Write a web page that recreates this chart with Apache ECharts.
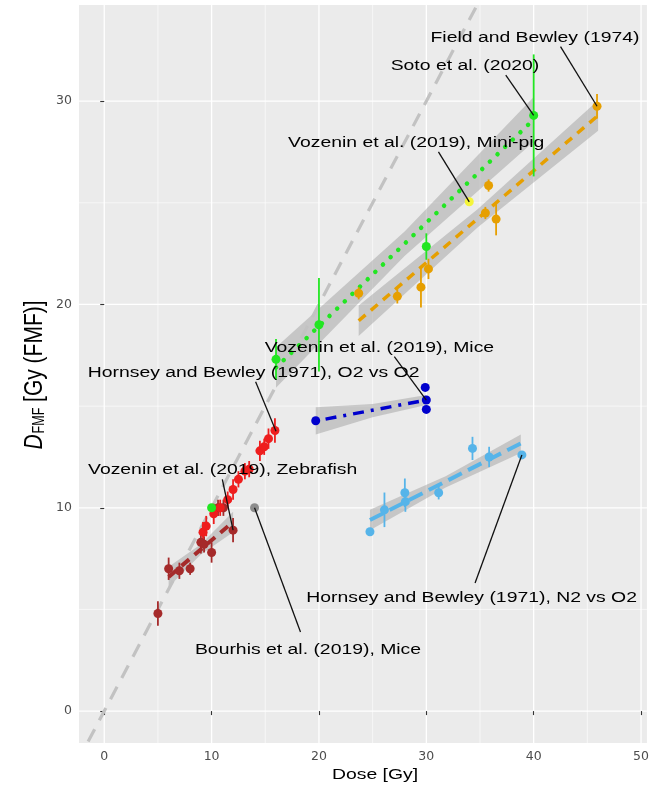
<!DOCTYPE html>
<html><head><meta charset="utf-8">
<script src="https://cdn.jsdelivr.net/npm/echarts@6/dist/echarts.min.js"></script>
<style>html,body{margin:0;padding:0;background:#fff}#c{width:652px;height:791px}</style>
</head><body><div id="c"></div>
<script>
// ---------- axis ticks ----------
const xTicks = [0, 10, 20, 30, 40, 50];
const yTicks = [0, 10, 20, 30];
const xMinorTicks = [5, 15, 25, 35, 45];
const yMinorTicks = [5, 15, 25];

// ---------- identity line ----------
const identityX = [-1.5, 36];
const identityY = [-1.5, 36];

// ---------- Vozenin et al. (2019), Zebrafish ----------
const zebraX   = [5, 6, 7, 8, 9, 9.3, 10, 10.6, 11.1, 12];
const zebraY   = [4.8, 7.0, 6.9, 7.0, 8.3, 8.2, 7.8, 10.0, 10.0, 8.9];
const zebraErr = [0.6, 0.55, 0.4, 0.3, 0.55, 0.4, 0.5, 0.4, 0.4, 0.6];
const zebraFitX = [6, 12];
const zebraFitY = [6.6, 9.3];
const zebraBandX  = [6, 9, 12];
const zebraBandLo = [6.1, 7.7, 8.8];
const zebraBandHi = [7.1, 8.2, 9.8];

// ---------- Hornsey and Bewley (1971), O2 vs O2 ----------
const o2X   = [9.2, 9.5, 10.2, 10.8, 11.5, 12.0, 12.5, 13.1, 13.5, 14.5, 14.9, 15.3, 15.9];
const o2Y   = [8.8, 9.1, 9.7, 10.0, 10.4, 10.9, 11.4, 11.8, 11.9, 12.8, 13.0, 13.4, 13.8];
const o2Err = [0.5, 0.5, 0.5, 0.4, 0.4, 0.5, 0.4, 0.4, 0.4, 0.5, 0.4, 0.5, 0.6];

// ---------- Bourhis et al. (2019), Mice ----------
const bourhisX = [14];
const bourhisY = [10];

// ---------- Soto et al. (2020) ----------
const sotoX   = [10, 16, 20, 30, 40];
const sotoY   = [10.0, 17.3, 19.0, 22.85, 29.3];
const sotoErr = [0, 1.0, 2.3, 0.65, 3.0];
const sotoFitX = [16, 40];
const sotoFitY = [16.9, 29.1];
const sotoBandX  = [16, 28, 40];
const sotoBandLo = [15.9, 22.4, 28.0];
const sotoBandHi = [17.9, 23.6, 30.2];

// ---------- Vozenin et al. (2019), Mini-pig ----------
const pigX = [34];
const pigY = [25.05];

// ---------- Field and Bewley (1974) ----------
const fieldX   = [23.7, 27.3, 29.5, 30.2, 35.5, 35.8, 36.5, 45.9];
const fieldY   = [20.55, 20.4, 20.85, 21.75, 24.5, 25.85, 24.2, 29.75];
const fieldErr = [0.3, 0.35, 1.0, 0.5, 0.3, 0.3, 0.8, 0.6];
const fieldFitX = [23.7, 46];
const fieldFitY = [19.2, 29.3];
const fieldBandX  = [23.7, 34.8, 46];
const fieldBandLo = [18.45, 23.8, 28.55];
const fieldBandHi = [19.95, 24.7, 30.05];

// ---------- Vozenin et al. (2019), Mice ----------
const miceX = [19.7, 29.9, 30, 30];
const miceY = [14.28, 15.92, 15.3, 14.84];
const miceFitX = [19.7, 30];
const miceFitY = [14.27, 15.3];
const miceBandX  = [19.7, 25, 30];
const miceBandLo = [13.6, 14.45, 15.05];
const miceBandHi = [14.95, 15.1, 15.55];

// ---------- Hornsey and Bewley (1971), N2 vs O2 ----------
const n2X   = [24.75, 26.1, 28.0, 28.05, 31.15, 34.3, 35.85, 38.9];
const n2Y   = [8.82, 9.9, 10.74, 10.3, 10.74, 12.92, 12.5, 12.6];
const n2Err = [0, 0.85, 0.7, 0.5, 0.33, 0.57, 0.5, 0];
const n2FitX = [24.75, 38.8];
const n2FitY = [9.4, 13.17];
const n2BandX  = [24.75, 31.8, 38.8];
const n2BandLo = [8.9, 11.0, 12.7];
const n2BandHi = [9.9, 11.55, 13.6];

// ---------- annotations ----------
const labelText = [
  'Field and Bewley (1974)',
  'Soto et al. (2020)',
  'Vozenin et al. (2019), Mini-pig',
  'Vozenin et al. (2019), Mice',
  'Hornsey and Bewley (1971), O2 vs O2',
  'Vozenin et al. (2019), Zebrafish',
  'Bourhis et al. (2019), Mice',
  'Hornsey and Bewley (1971), N2 vs O2'
];
const labelX = [40.12, 33.6, 29.06, 25.63, 13.91, 11.03, 18.98, 34.22];
const labelY = [33.1, 31.73, 27.96, 17.88, 16.63, 11.85, 3.0, 5.56];
const leaderX1 = [42.5, 37.4, 31.13, 27.02, 14.1, 11.0, 14.0, 38.9];
const leaderY1 = [32.68, 31.28, 27.51, 17.43, 16.2, 11.4, 10.0, 12.6];
const leaderX2 = [45.9, 40.0, 34.0, 30.0, 16.0, 12.0, 18.28, 34.54];
const leaderY2 = [29.75, 29.3, 25.05, 15.3, 13.77, 8.9, 3.89, 6.3];

// ================= build =================
const FONT = '"Liberation Sans", Arial, sans-serif';
const STRETCH = 1.25;
const zip2 = (a, b) => a.map((v, i) => [v, b[i]]);

function gridSeries() {
  const data = [];
  xTicks.forEach(v => data.push([0, v, 1]));
  xMinorTicks.forEach(v => data.push([0, v, 0]));
  yTicks.forEach(v => data.push([1, v, 1]));
  yMinorTicks.forEach(v => data.push([1, v, 0]));
  return {
    type: 'custom', data, z: 0, silent: true, encode: { x: 1, y: 1 },
    renderItem: (params, api) => {
      const cs = params.coordSys;
      const axis = api.value(0), v = api.value(1), major = api.value(2);
      const w = major ? 1.3 : 0.6;
      if (axis === 0) {
        const px = api.coord([v, 0])[0];
        return { type: 'line', shape: { x1: px, y1: cs.y, x2: px, y2: cs.y + cs.height }, style: { stroke: '#fff', lineWidth: w } };
      }
      const py = api.coord([0, v])[1];
      return { type: 'line', shape: { x1: cs.x, y1: py, x2: cs.x + cs.width, y2: py }, style: { stroke: '#fff', lineWidth: w } };
    }
  };
}

function ribbon(xs, lo, hi) {
  return {
    type: 'custom', data: xs.map((x, i) => [x, lo[i], hi[i]]), z: 2, silent: true,
    encode: { x: 0, y: [1, 2] },
    renderItem: (params, api) => {
      if (params.dataIndex !== 0) return null;
      const pts = [];
      for (let i = 0; i < xs.length; i++) pts.push(api.coord([xs[i], hi[i]]));
      for (let i = xs.length - 1; i >= 0; i--) pts.push(api.coord([xs[i], lo[i]]));
      return { type: 'polygon', shape: { points: pts }, style: { fill: 'rgba(153,153,153,0.45)' } };
    }
  };
}

function fitLine(xs, ys, color, width, dash, cap) {
  return {
    type: 'line', data: zip2(xs, ys), showSymbol: false, symbol: 'none', z: 3, silent: true,
    lineStyle: { color, width, type: dash, cap: cap || 'butt' }
  };
}

function errBars(xs, ys, errs, color) {
  return {
    type: 'custom', z: 4, silent: true,
    data: xs.map((x, i) => [x, ys[i] - errs[i], ys[i] + errs[i]]),
    encode: { x: 0, y: [1, 2] },
    renderItem: (params, api) => {
      const p1 = api.coord([api.value(0), api.value(1)]);
      const p2 = api.coord([api.value(0), api.value(2)]);
      return { type: 'line', shape: { x1: p1[0], y1: p1[1], x2: p2[0], y2: p2[1] }, style: { stroke: color, lineWidth: 1.8 } };
    }
  };
}

function pts(xs, ys, color, size) {
  return { type: 'scatter', data: zip2(xs, ys), symbolSize: size || 9, z: 5, silent: true, itemStyle: { color, opacity: 1 } };
}

const labelSeries = {
  type: 'custom', z: 7, silent: true,
  data: labelX.map((x, i) => [x, labelY[i]]),
  encode: { x: 0, y: 1 },
  renderItem: (params, api) => {
    const p = api.coord([api.value(0), api.value(1)]);
    return {
      type: 'text', x: p[0], y: p[1], scaleX: STRETCH,
      style: { text: labelText[params.dataIndex], font: '15.5px ' + FONT, fill: '#000', align: 'center', verticalAlign: 'middle' }
    };
  }
};

const leaderSeries = {
  type: 'custom', z: 6, silent: true,
  data: leaderX1.map((x, i) => [x, leaderY1[i], leaderX2[i], leaderY2[i]]),
  encode: { x: [0, 2], y: [1, 3] },
  renderItem: (params, api) => {
    const a = api.coord([api.value(0), api.value(1)]);
    const b = api.coord([api.value(2), api.value(3)]);
    return { type: 'line', shape: { x1: a[0], y1: a[1], x2: b[0], y2: b[1] }, style: { stroke: '#111', lineWidth: 1.3 } };
  }
};

const COL = {
  zebra: '#A52A2A', o2: '#EE1D1D', grey: '#8C8C8C', soto: '#22E622', pig: '#F5F53A',
  field: '#E69F00', mice: '#0000CD', n2: '#56B4E9', identity: '#C2C2C2'
};

const series = [
  gridSeries(),
  ribbon(zebraBandX, zebraBandLo, zebraBandHi),
  ribbon(sotoBandX, sotoBandLo, sotoBandHi),
  ribbon(fieldBandX, fieldBandLo, fieldBandHi),
  ribbon(miceBandX, miceBandLo, miceBandHi),
  ribbon(n2BandX, n2BandLo, n2BandHi),
  fitLine(identityX, identityY, COL.identity, 3.2, [14, 10]),
  fitLine(zebraFitX, zebraFitY, COL.zebra, 4, [10, 7]),
  fitLine(sotoFitX, sotoFitY, COL.soto, 4.5, [0.1, 10.5], 'round'),
  fitLine(fieldFitX, fieldFitY, COL.field, 3.5, [9, 7]),
  fitLine(miceFitX, miceFitY, COL.mice, 3.5, [3, 7, 11, 7]),
  fitLine(n2FitX, n2FitY, COL.n2, 4, [15, 7]),
  errBars(zebraX, zebraY, zebraErr, COL.zebra),
  errBars(o2X, o2Y, o2Err, COL.o2),
  errBars(sotoX, sotoY, sotoErr, COL.soto),
  errBars(fieldX, fieldY, fieldErr, COL.field),
  errBars(n2X, n2Y, n2Err, COL.n2),
  pts(zebraX, zebraY, COL.zebra),
  pts(o2X, o2Y, COL.o2),
  pts(bourhisX, bourhisY, COL.grey),
  pts(sotoX, sotoY, COL.soto),
  pts(pigX, pigY, COL.pig),
  pts(fieldX, fieldY, COL.field),
  pts(miceX, miceY, COL.mice),
  pts(n2X, n2Y, COL.n2),
  leaderSeries,
  labelSeries
];

const axisCommon = {
  type: 'value',
  axisLine: { show: false },
  splitLine: { show: false },
  axisTick: { show: true, length: 4, lineStyle: { color: '#333', width: 1.1 } },
  axisLabel: { color: '#4D4D4D', fontFamily: '"DejaVu Sans", sans-serif', fontSize: 12.5 }
};

const chart = echarts.init(document.getElementById('c'), null, { renderer: 'canvas' });
chart.setOption({
  animation: false,
  backgroundColor: '#fff',
  grid: { left: 79, right: 3, top: 5, bottom: 48, show: true, backgroundColor: '#EBEBEB', borderWidth: 0 },
  xAxis: Object.assign({}, axisCommon, {
    min: -2.35, max: 50.55,
    axisTick: Object.assign({}, axisCommon.axisTick, { customValues: xTicks }),
    axisLabel: Object.assign({}, axisCommon.axisLabel, { customValues: xTicks, margin: 7 })
  }),
  yAxis: Object.assign({}, axisCommon, {
    min: -1.57, max: 34.73,
    axisTick: Object.assign({}, axisCommon.axisTick, { customValues: yTicks }),
    axisLabel: Object.assign({}, axisCommon.axisLabel, { customValues: yTicks, margin: 7 })
  }),
  graphic: [
    { type: 'text', x: 375, y: 775, scaleX: STRETCH, silent: true,
      style: { text: 'Dose [Gy]', font: '15.5px ' + FONT, fill: '#000', align: 'center', verticalAlign: 'middle' } },
    { type: 'text', x: 33, y: 375, rotation: Math.PI / 2, scaleY: STRETCH, silent: true,
      style: {
        text: '{i|D}{s|FMF}{n| [Gy (FMF)]}', align: 'center', verticalAlign: 'middle', fill: '#000',
        rich: {
          i: { fontFamily: FONT, fontSize: 21, fontStyle: 'italic', fill: '#000', verticalAlign: 'bottom', lineHeight: 24 },
          s: { fontFamily: FONT, fontSize: 12.5, fill: '#000', verticalAlign: 'bottom', lineHeight: 24, padding: [0, 0, 0, 1] },
          n: { fontFamily: FONT, fontSize: 21, fill: '#000', verticalAlign: 'bottom', lineHeight: 24 }
        }
      } }
  ],
  series
});
</script>
</body></html>
